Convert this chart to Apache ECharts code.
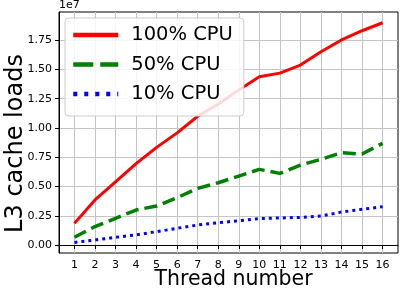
<!DOCTYPE html>
<html>
<head>
<meta charset="utf-8">
<script src="https://cdn.jsdelivr.net/npm/echarts@6/dist/echarts.min.js"></script>
<style>html,body{margin:0;padding:0;background:#fff}#c{width:407px;height:290px}</style>
</head>
<body>
<div id="c"></div>
<script>
const threads = [1,2,3,4,5,6,7,8,9,10,11,12,13,14,15,16];
const cpu100 = [0.185,0.385,0.54,0.695,0.834,0.958,1.10,1.204,1.324,1.437,1.468,1.537,1.651,1.751,1.83,1.898];
const cpu50  = [0.066,0.158,0.228,0.299,0.333,0.405,0.484,0.532,0.589,0.646,0.612,0.683,0.732,0.788,0.777,0.868];
const cpu10  = [0.022,0.043,0.066,0.087,0.114,0.143,0.171,0.190,0.208,0.225,0.231,0.236,0.248,0.282,0.305,0.327];
const yTicks = [0,0.25,0.5,0.75,1.0,1.25,1.5,1.75];
const xTicks = threads;
const seriesNames = ['100% CPU','50% CPU','10% CPU'];

const font = 'DejaVu Sans';
const chart = echarts.init(document.getElementById('c'), null, {renderer:'canvas'});
const toPts = arr => arr.map((v,i)=>[threads[i], v]);
chart.setOption({
  animation:false,
  grid:{left:59, top:12, right:9, bottom:37, show:true, borderColor:'#000', borderWidth:1, backgroundColor:'transparent', containLabel:false, outerBoundsMode:'none'},
  xAxis:{
    type:'value', min:0.25, max:16.75,
    name:'Thread number', nameLocation:'middle', nameGap:16, nameMoveOverlap:false,
    nameTextStyle:{fontFamily:font, fontSize:20.5, color:'#000', verticalAlign:'top', padding:[0,0,0,10]},
    axisLine:{show:true, lineStyle:{color:'#000', width:1}},
    axisTick:{show:true, length:4, lineStyle:{color:'#000'}, customValues:xTicks},
    axisLabel:{fontFamily:font, fontSize:11, color:'#000', margin:7, customValues:xTicks, formatter:v=>String(v)},
    splitLine:{show:true, lineStyle:{color:'#c4c4c4', width:1}}
  },
  yAxis:{
    type:'value', min:-0.068, max:1.99,
    name:'L3 cache loads', nameLocation:'middle', nameGap:31, nameMoveOverlap:false,
    nameTextStyle:{fontFamily:font, fontSize:24, color:'#000', padding:[0,22,0,0]},
    axisLine:{show:true, lineStyle:{color:'#000', width:1}},
    axisTick:{show:true, length:4, lineStyle:{color:'#000'}, customValues:yTicks},
    axisLabel:{fontFamily:font, fontSize:11, color:'#000', margin:7, customValues:yTicks, formatter:v=>v.toFixed(2)},
    splitLine:{show:true, lineStyle:{color:'#c4c4c4', width:1}}
  },
  graphic:[{type:'text', left:59, top:0, style:{text:'1e7', font:'11px "DejaVu Sans"', fill:'#000'}}],
  legend:{
    left:65, top:18, orient:'vertical',
    padding:[6,11,11,6], itemGap:7.5, itemWidth:45, itemHeight:22,
    backgroundColor:'rgba(255,255,255,0.85)', borderColor:'#cccccc', borderWidth:1, borderRadius:4,
    itemStyle:{opacity:0, borderWidth:0},
    textStyle:{fontFamily:font, fontSize:19.5, color:'#000', padding:[0,0,0,8], lineHeight:22},
    data:[
      {name:seriesNames[0], lineStyle:{width:4.5}},
      {name:seriesNames[1], lineStyle:{width:4.5, type:[20,7]}},
      {name:seriesNames[2], lineStyle:{width:4.5, type:[4,7]}}
    ]
  },
  series:[
    {name:seriesNames[0], type:'line', data:toPts(cpu100), symbol:'none', lineStyle:{color:'#ff0000', width:3}, itemStyle:{color:'#ff0000'}},
    {name:seriesNames[1], type:'line', data:toPts(cpu50), symbol:'none', lineStyle:{color:'#008000', width:3.5, type:[13,6]}, itemStyle:{color:'#008000'}},
    {name:seriesNames[2], type:'line', data:toPts(cpu10), symbol:'none', lineStyle:{color:'#0000ff', width:3, type:[3,4]}, itemStyle:{color:'#0000ff'}}
  ]
});
</script>
</body>
</html>
